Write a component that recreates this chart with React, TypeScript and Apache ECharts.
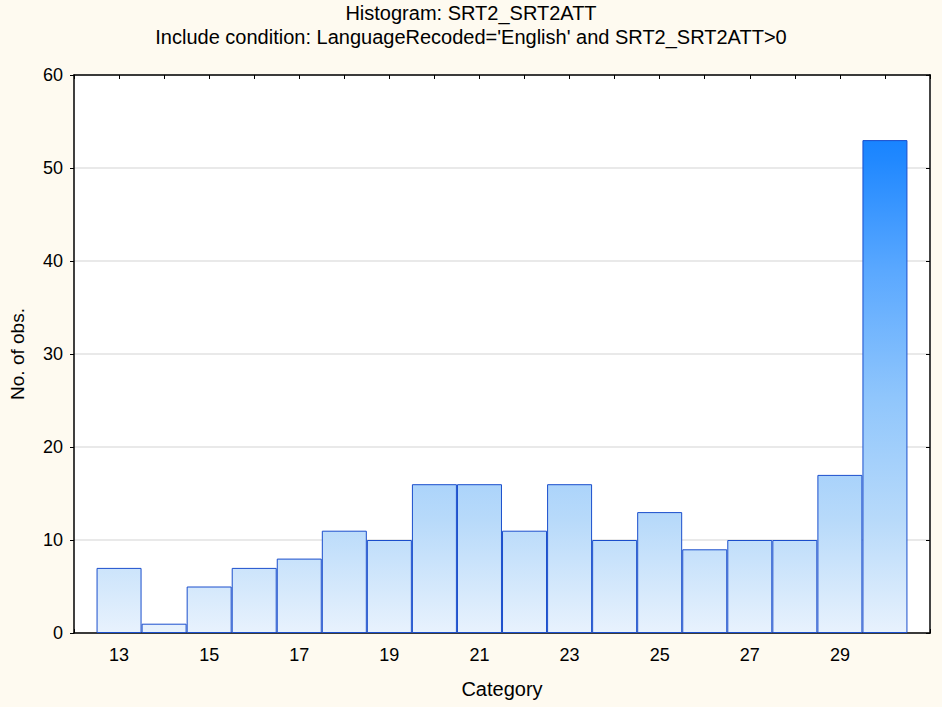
import React, { useEffect, useRef } from "react";
import * as echarts from "echarts";

const categories = [13, 14, 15, 16, 17, 18, 19, 20, 21, 22, 23, 24, 25, 26, 27, 28, 29, 30];
const counts = [7, 1, 5, 7, 8, 11, 10, 16, 16, 11, 16, 10, 13, 9, 10, 10, 17, 53];
const xLabels = ["13", "15", "17", "19", "21", "23", "25", "27", "29"];
const yTicks = [0, 10, 20, 30, 40, 50, 60];

const FONT = "'Liberation Sans', Arial, sans-serif";

export default function App() {
  const ref = useRef<HTMLDivElement>(null);
  useEffect(() => {
    if (!ref.current) return;
    const chart = echarts.init(ref.current, null, { renderer: "svg" });
    const data = categories.map((c, i) => [c, counts[i]]);
    const grad = new echarts.graphic.LinearGradient(0, 75, 0, 633, [
      { offset: 0, color: "#0076ff" },
      { offset: 0.15, color: "#2088ff" },
      { offset: 0.35, color: "#5aa8ff" },
      { offset: 0.58, color: "#90c6fc" },
      { offset: 0.8, color: "#b8dafa" },
      { offset: 1, color: "#e8f2fd" },
    ], true);
    chart.setOption({
      animation: false,
      backgroundColor: "#fefaf0",
      textStyle: { fontFamily: FONT },
      title: [
        {
          text: "Histogram: SRT2_SRT2ATT",
          left: "center",
          top: 3,
          padding: 0,
          textStyle: { fontSize: 20, lineHeight: 20, fontWeight: "normal", color: "#000", fontFamily: FONT },
        },
        {
          text: "Include condition: LanguageRecoded='English' and SRT2_SRT2ATT>0",
          left: "center",
          top: 27,
          padding: 0,
          textStyle: { fontSize: 20, lineHeight: 20, fontWeight: "normal", color: "#000", fontFamily: FONT },
        },
      ],
      grid: { left: 74, right: 12, top: 75, bottom: 74, show: true, backgroundColor: "#ffffff", borderWidth: 0 },
      xAxis: [
        {
          type: "value",
          min: 12,
          max: 31,
          interval: 1,
          position: "bottom",
          name: "Category",
          nameLocation: "middle",
          nameGap: 46,
          nameTextStyle: { fontSize: 20, color: "#000", fontFamily: FONT },
          axisLine: { show: true, onZero: false, lineStyle: { color: "#000", width: 1.5 } },
          axisTick: { show: true, inside: true, length: 4, lineStyle: { color: "#000" } },
          axisLabel: {
            fontSize: 18,
            color: "#000",
            margin: 13,
            fontFamily: FONT,
            formatter: (v: number) => (xLabels.includes(String(v)) ? String(v) : ""),
          },
          splitLine: { show: false },
        },
        {
          type: "value",
          min: 12,
          max: 31,
          interval: 1,
          position: "top",
          axisLine: { show: true, onZero: false, lineStyle: { color: "#000", width: 1.5 } },
          axisTick: { show: true, inside: true, length: 4, lineStyle: { color: "#000" } },
          axisLabel: { show: false },
          splitLine: { show: false },
        },
      ],
      yAxis: [
        {
          type: "value",
          min: yTicks[0],
          max: yTicks[yTicks.length - 1],
          interval: 10,
          position: "left",
          name: "No. of obs.",
          nameLocation: "middle",
          nameGap: 47,
          nameRotate: 90,
          nameTextStyle: { fontSize: 19, color: "#000", fontFamily: FONT },
          axisLine: { show: true, lineStyle: { color: "#000", width: 1.5 } },
          axisTick: { show: true, inside: false, length: 4, lineStyle: { color: "#000" } },
          axisLabel: { fontSize: 18, color: "#000", margin: 11, fontFamily: FONT },
          splitLine: { show: true, lineStyle: { color: "#e2e2e2", width: 1.5 } },
        },
        {
          type: "value",
          min: 0,
          max: 60,
          interval: 10,
          position: "right",
          axisLine: { show: true, lineStyle: { color: "#444", width: 2 } },
          axisTick: { show: true, inside: true, length: 4, lineStyle: { color: "#000" } },
          axisLabel: { show: false },
          splitLine: { show: false },
        },
      ],
      series: [
        {
          type: "bar",
          xAxisIndex: 0,
          yAxisIndex: 0,
          data,
          barWidth: 45,
          itemStyle: { color: grad, borderColor: "#1a4ecc", borderWidth: 1 },
          z: 3,
        },
      ],
    });
    return () => chart.dispose();
  }, []);
  return <div ref={ref} style={{ width: 942, height: 707, position: "absolute", left: 0, top: 0 }} />;
}
